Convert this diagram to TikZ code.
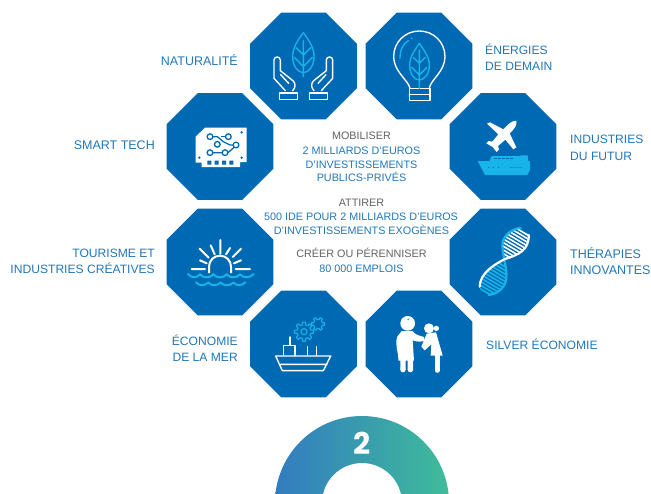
\documentclass[tikz,border=0pt]{standalone}
\usepackage{fontspec}
\setmainfont{Liberation Sans}
\newfontfamily\numfont{Poppins}
\usetikzlibrary{shapes.geometric}
\definecolor{octablue}{HTML}{0069B4}
\definecolor{labelblue}{HTML}{2277B8}
\definecolor{labelgray}{HTML}{626262}
\definecolor{iconcyan}{HTML}{18B4E9}
\definecolor{arcblue}{HTML}{327CC0}
\definecolor{arcmid}{HTML}{34A0A8}
\definecolor{arcgreen}{HTML}{3FBC9A}
\tikzset{
  octa/.style={regular polygon,regular polygon sides=8,minimum size=115.8pt,inner sep=0pt,outer sep=0pt,fill=octablue,draw=none},
  lab/.style={font=\fontsize{12.1}{12.1}\selectfont,text=labelblue,inner sep=0pt,anchor=base},
  wide/.style={font=\fontsize{12.5}{12.5}\selectfont},
  labl/.style={lab,anchor=base west},
  labr/.style={lab,anchor=base east},
  midlab/.style={lab,font=\fontsize{10.8}{10.8}\selectfont},
  midgray/.style={midlab,text=labelgray},
  wl/.style={draw=white,line width=1.35pt,line join=round,line cap=round},
  cl/.style={draw=iconcyan,line width=1.35pt,line join=round,line cap=round},
  zoomed/.style={x=0.33333pt,y=-0.33333pt}
}
\begin{document}
\begin{tikzpicture}[x=1pt,y=-1pt]
\useasboundingbox (0,0) rectangle (651,493);
\fill[white] (0,0) rectangle (651,493);
% octagons
\node[octa] (natur) at (303.5,66) {};
\node[octa] (energ) at (419,66) {};
\node[octa] (smart) at (220,146.5) {};
\node[octa] (indus) at (503,146.5) {};
\node[octa] (touri) at (220,262) {};
\node[octa] (thera) at (503,262) {};
\node[octa] (econo) at (303.5,344) {};
\node[octa] (silve) at (419,344) {};
% hands and leaf
\begin{scope}[shift={(240,0)},zoomed]
\draw[cl] (190,98) .. controls (170,125) and (158,145) .. (158,170) .. controls (158,200) and (175,218) .. (190,218) .. controls (205,218) and (222,200) .. (222,170) .. controls (222,145) and (210,125) .. (190,98) -- cycle;
\draw[cl] (190,122) -- (190,230) (190,165) -- (168,143) (190,165) -- (212,143) (190,200) -- (163,172) (190,200) -- (217,172);
\foreach \m/\o in {1/0,-1/380}{
\begin{scope}[shift={(\o,0)},x=\m*0.33333pt]
\draw[wl] (136,272) -- (102,235) -- (102,180) .. controls (102,168) and (121,168) .. (121,180) -- (121,212) -- (160,243) .. controls (168,252) and (166,264) .. (158,272);
\draw[wl] (122,224) -- (146,250);
\draw[wl] (118,279) rectangle (172,298);
\end{scope}}
% bulb
\draw[wl] (510,265) .. controls (505,240) and (461,215) .. (461,170) .. controls (461,125) and (497,93) .. (538,93) .. controls (579,93) and (615,125) .. (615,170) .. controls (615,215) and (571,240) .. (568,265);
\draw[wl] (508,265) rectangle (570,302) (508,284) -- (570,284);
\draw[cl] (480,175) .. controls (480,150) and (490,130) .. (505,122);
\fill[iconcyan] (515,115) circle (3);
\draw[cl] (538,130) .. controls (525,150) and (509,170) .. (509,195) .. controls (509,225) and (525,240) .. (538,240) .. controls (551,240) and (568,225) .. (568,195) .. controls (568,170) and (551,150) .. (538,130) -- cycle;
\draw[cl] (538,150) -- (538,265) (538,190) -- (520,172) (538,190) -- (556,172) (538,225) -- (515,202) (538,225) -- (561,202);
\end{scope}
% circuit board
\begin{scope}[shift={(160,90)},zoomed]
\fill[white] (135,113) -- (260,113) -- (260,216) -- (240,216) -- (240,231) -- (125,231) -- (125,218) -- (107,218) -- (107,140) -- cycle;
\begin{scope}[draw=octablue,line width=1.3pt]
\draw (158,140) -- (172,140) -- (190,155) -- (210,165) -- (220,165);
\draw (197,140) -- (182,140);
\draw (159,188) -- (187,188) (204,188) -- (222,172);
\foreach \p in {(150,140),(205,140),(172,163),(228,165),(150,188),(195,188)}
  \draw \p circle (8.5);
\end{scope}
\fill[octablue] (142,212) rectangle (154,224) (164,212) rectangle (176,224) (186,212) rectangle (198,224) (208,212) rectangle (220,224);
\fill[octablue] (245,127) circle (4) (118,203) circle (4) (245,203) circle (4);
\end{scope}
% sun
\begin{scope}[shift={(160,90)},zoomed]
\draw[white,line width=2pt] (147,549) -- (147,530) arc (180:360:33) -- (213,549);
\draw[white,line width=2pt,line cap=round]
  (181,450) -- (181,491)
  (152,466) -- (164,493) (210,474) -- (198,493)
  (119,476) -- (146,503) (243,476) -- (218,501)
  (120,511) -- (140,520) (243,511) -- (222,520)
  (95,537) -- (135,537) (227,537) -- (270,537);
\draw[iconcyan,line width=2pt,line cap=round] (84,552) .. controls (95,565) and (110,565) .. (120,553) .. controls (130,565) and (150,565) .. (160,553) .. controls (170,565) and (190,565) .. (200,553) .. controls (210,565) and (230,565) .. (240,553) .. controls (250,565) and (270,565) .. (281,552);
\draw[iconcyan,line width=2pt,line cap=round] (108,577) .. controls (118,588) and (132,588) .. (145,578) .. controls (155,588) and (170,588) .. (182,578) .. controls (192,588) and (210,588) .. (220,578) .. controls (230,588) and (245,588) .. (256,577);
\end{scope}
% plane and ship
\begin{scope}[shift={(440,90)},zoomed]
\fill[white] (229,92) .. controls (215,92) and (205,102) .. (190,118) -- (150,97) -- (141,101) -- (175,133) -- (157,155) -- (146,153) -- (139,160) -- (158,171) -- (170,186) -- (177,179) -- (174,168) -- (196,149) -- (220,178) -- (229,172) -- (209,130) .. controls (222,118) and (233,105) .. (229,92) -- cycle;
\fill[iconcyan] (113,213) -- (148,213) -- (155,198) -- (240,198) -- (242,196) -- (263,196) -- (265,213) -- (270,213) -- (270,240) -- (262,255) -- (135,255) -- cycle;
\foreach \x in {163,175,187,199,211} \fill[octablue] (\x,203) rectangle +(8,5);
\foreach \x in {146,160,176} \fill[octablue] (\x,232) circle (1.8);
\foreach \x in {210,215,...,248} \fill[octablue] (\x,232) circle (1.3);
\end{scope}
% DNA
\begin{scope}[shift={(440,90)},zoomed]
\begin{scope}
\clip (241,413) .. controls (205,420) and (185,445) .. (187,470) .. controls (188,485) and (192,495) .. (195,507) .. controls (235,495) and (268,480) .. (266,435) -- cycle;
\foreach \d in {-120,-109,...,60}
  \draw[white,line width=1.6pt] (180,440+\d) -- (290,505+\d);
\end{scope}
\begin{scope}
\clip (195,510) .. controls (205,545) and (205,600) .. (146,615) .. controls (130,610) and (118,600) .. (119,590) .. controls (120,550) and (160,525) .. (195,510) -- cycle;
\foreach \d in {-20,-9,...,160}
  \draw[iconcyan,line width=1.6pt] (110,500+\d) -- (220,565+\d);
\end{scope}
\draw[iconcyan,line width=2.2pt,line cap=round] (241,413) .. controls (205,420) and (185,445) .. (187,470) .. controls (189,510) and (212,560) .. (190,590) .. controls (180,605) and (165,612) .. (146,615);
\draw[white,line width=2.2pt,line cap=round] (266,435) .. controls (268,480) and (235,495) .. (195,507) .. controls (160,525) and (120,550) .. (119,590);
\end{scope}
% ship and gears
\begin{scope}[shift={(240,295)},zoomed]
\draw[wl] (107,183) -- (272,183) -- (250,227) -- (127,227) -- cycle (118,208) -- (261,208);
\draw[wl] (130,183) -- (130,151) -- (165,151) -- (165,183) (150,151) -- (150,126) (203,183) -- (203,155) (230,183) -- (230,155);
\begin{scope}[shift={(192,110)}]
\draw[cl,line width=1.1pt] (-13:21) \foreach \a in {0,45,...,315}{ -- (\a-13:21) -- (\a-9:29) -- (\a+9:29) -- (\a+13:21)} -- cycle;
\draw[cl,line width=1.1pt] (0,0) circle (9);
\end{scope}
\begin{scope}[shift={(234,87)}]
\draw[cl,line width=1.1pt] (-16:14) \foreach \a in {0,60,...,300}{ -- (\a-16:14) -- (\a-11:20) -- (\a+11:20) -- (\a+16:14)} -- cycle;
\end{scope}
% people
\fill[white] (503,85) circle (22);
\fill[iconcyan] (505,73) circle (3);
\fill[white] (485,108) -- (517,108) .. controls (525,120) and (540,122) .. (552,126) -- (552,138) .. controls (540,141) and (528,140) .. (518,136) -- (522,197) -- (475,197) .. controls (476,170) and (463,150) .. (472,125) -- cycle;
\fill[white] (481,190) rectangle (497,224) (503,190) rectangle (519,224);
\fill[white] (489,224) circle (8) (511,224) circle (8);
\fill[white] (567,100) circle (15) (589,100) circle (8);
\fill[white] (560,116) -- (588,112) -- (608,182) -- (572,182) -- (574,148) -- (554,166) -- (544,155) -- cycle;
\draw[white,line width=5pt,line cap=round] (591,180) -- (591,226);
\end{scope}
% arc
\begin{scope}
\clip (0,0) rectangle (651,493);
\shade[even odd rule,left color=arcblue,middle color=arcmid,right color=arcgreen] (362,503) circle (87) (362,503) circle (40);
\end{scope}
\node[inner sep=0pt,text=white,font=\numfont\bfseries\fontsize{30}{30}\selectfont] (num) at (362.5,443) {2};
% labels
\node[labr,wide] (l1) at (238,65.5) {NATURALITÉ};
\node[labl] (l2a) at (485,54.5) {ÉNERGIES};
\node[labl] (l2b) at (485,70.5) {DE DEMAIN};
\node[labr,wide] (l3) at (155,149.5) {SMART TECH};
\node[labl] (l4a) at (570,143.5) {INDUSTRIES};
\node[labl] (l4b) at (570,160.5) {DU FUTUR};
\node[labr] (l5a) at (155,257.5) {TOURISME ET};
\node[labr] (l5b) at (155,273.5) {INDUSTRIES CRÉATIVES};
\node[labl,wide] (l6a) at (570,258.5) {THÉRAPIES};
\node[labl,wide] (l6b) at (570,274.5) {INNOVANTES};
\node[labr] (l7a) at (238,345.5) {ÉCONOMIE};
\node[labr] (l7b) at (238,361.5) {DE LA MER};
\node[labl] (l8) at (486,349.5) {SILVER ÉCONOMIE};
% centre
\node[midgray] (c1) at (361.5,139.5) {MOBILISER};
\node[midlab] (c2) at (361.5,154.5) {2 MILLIARDS D’EUROS};
\node[midlab] (c3) at (361.5,168) {D’INVESTISSEMENTS};
\node[midlab] (c4) at (361.5,181.5) {PUBLICS-PRIVÉS};
\node[midgray] (c5) at (361.5,206.5) {ATTIRER};
\node[midlab] (c6) at (361,220.5) {500 IDE POUR 2 MILLIARDS D’EUROS};
\node[midlab] (c7) at (361.5,234.5) {D’INVESTISSEMENTS EXOGÈNES};
\node[midgray] (c8) at (361.5,257.5) {CRÉER OU PÉRENNISER};
\node[midlab] (c9) at (361.5,272.5) {80 000 EMPLOIS};
\end{tikzpicture}
\end{document}
